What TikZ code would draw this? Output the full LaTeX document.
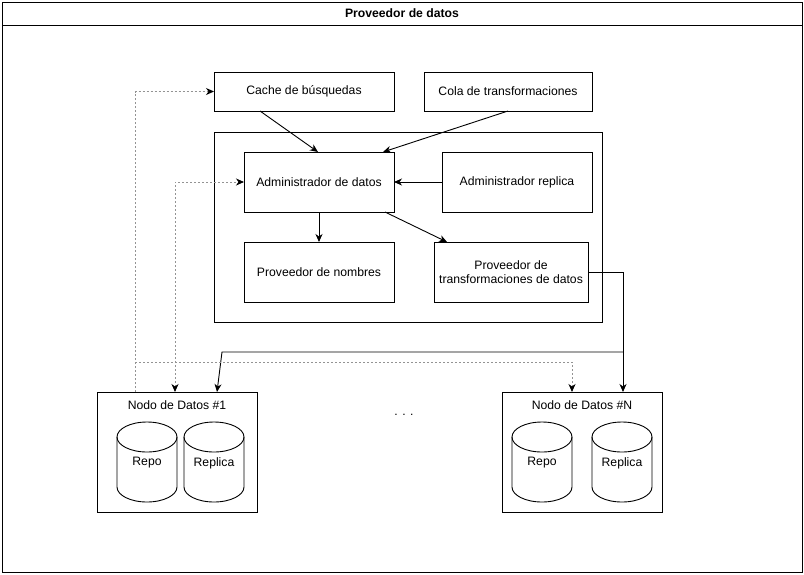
\documentclass[tikz,border=0pt]{standalone}
\usepackage{fontspec}
\setmainfont{Liberation Sans}
\usetikzlibrary{arrows.meta,calc}
\tikzset{
  box/.style={draw, line width=0.9pt, inner sep=0pt, outer sep=0pt, align=center, font=\fontsize{12.2}{14}\selectfont},
  lbl/.style={inner sep=0pt, font=\fontsize{12.2}{14}\selectfont},
  arr/.style={line width=0.9pt, -{Stealth[length=8pt,width=7pt,inset=2.5pt]}},
  dotl/.style={draw=gray!85, line width=0.9pt, dash pattern=on 2pt off 2pt},
  dotarr/.style={dotl, -{Stealth[black,length=8pt,width=7pt,inset=2.5pt]}},
  dotboth/.style={dotl, {Stealth[black,length=8pt,width=7pt,inset=2.5pt]}-{Stealth[black,length=8pt,width=7pt,inset=2.5pt]}},
}
\newcommand{\dbcyl}[3]{%
  \begin{scope}[shift={(#1,-#2)}]
    \draw[line width=0.9pt] (30,-15) ellipse [x radius=30, y radius=15];
    \draw[line width=0.9pt] (0,-15) -- (0,-65) arc [start angle=180, end angle=360, x radius=30, y radius=15] -- (60,-15);
    \node[lbl] at (30,-41) {#3};
  \end{scope}}
\begin{document}
\begin{tikzpicture}[x=1pt,y=1pt]
\useasboundingbox (0,0) rectangle (804,-574);
% outer frame
\node[box, minimum width=800pt, minimum height=570pt] (frame) at (402,-287) {};
\draw[line width=0.9pt] (frame.north west |- 0,-25) -- (frame.north east |- 0,-25);
\node[lbl, font=\fontsize{12.2}{14}\selectfont\bfseries] (title) at (402,-13.5) {Proveedor de datos};
% top boxes
\node[box, minimum width=180pt, minimum height=39pt] (cache) at (304,-91.5) {Cache de búsquedas};
\node[box, minimum width=168pt, minimum height=39pt] (cola) at (508,-91.5) {Cola de transformaciones};
% inner container
\node[box, minimum width=388pt, minimum height=190pt] (cont) at (408,-227) {};
\node[box, minimum width=150pt, minimum height=60pt] (admin) at (319,-182) {Administrador de datos};
\node[box, minimum width=150pt, minimum height=60pt] (replica) at (517,-182) {Administrador replica};
\node[box, minimum width=150pt, minimum height=60pt] (nombres) at (319,-272) {Proveedor de nombres};
\node[box, minimum width=154pt, minimum height=60pt] (transf) at (511,-272) {Proveedor de\\transformaciones de datos};
% data nodes
\node[box, minimum width=160pt, minimum height=120pt] (nodo1) at (177,-452) {};
\node[lbl] (t1) at (177,-405) {Nodo de Datos \#1};
\node[box, minimum width=160pt, minimum height=120pt] (nodoN) at (582,-452) {};
\node[lbl] (tN) at (582,-405) {Nodo de Datos \#N};
\node[lbl] (dots) at (404,-415) {. . .};
\dbcyl{117}{422}{Repo}
\dbcyl{184}{422}{Replica}
\dbcyl{512}{422}{Repo}
\dbcyl{592}{422}{Replica}
% solid connectors
\draw[arr] ([xshift=-44pt]cache.south) -- ([xshift=-1pt]admin.north);
\draw[arr] (cola.south) -- ([xshift=64pt]admin.north);
\draw[arr] (replica.west) -- (admin.east);
\draw[arr] (admin.south) -- (nombres.north);
\draw[arr] ([xshift=66pt]admin.south) -- ([xshift=-64pt]transf.north);
\draw[arr] (transf.east) -| ([xshift=41pt]nodoN.north);
\coordinate (br) at (623,-352);
\coordinate (bend1) at (222,-352);
\draw[arr] (br) -- (bend1) -- ([xshift=40pt]nodo1.north);
% dotted connectors
\draw[dotarr] ([xshift=-42pt]nodo1.north) |- (cache.west);
\coordinate (ds) at (135,-362);
\draw[dotarr] (ds) -| ([xshift=-10pt]nodoN.north);
\draw[dotboth] ([xshift=-2pt]nodo1.north) |- (admin.west);
\end{tikzpicture}
\end{document}
